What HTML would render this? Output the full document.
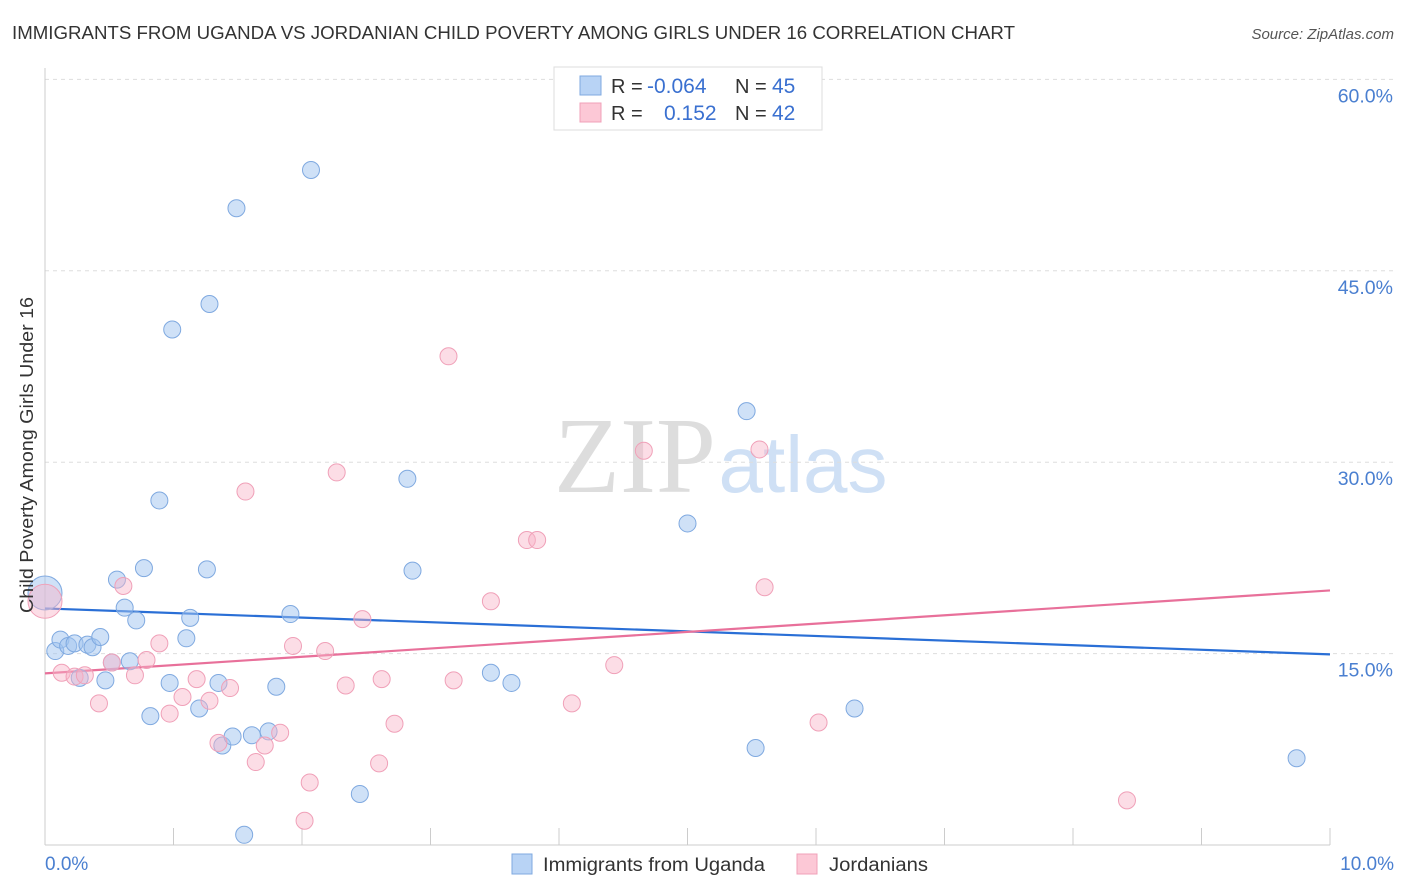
<!DOCTYPE html>
<html><head><meta charset="utf-8"><style>
body{margin:0;background:#fff;font-family:"Liberation Sans",sans-serif;}
svg{display:block}
</style></head><body>
<svg id="chart" width="1406" height="892">
<text x="12" y="39" font-size="18" fill="#333" textLength="1003" lengthAdjust="spacingAndGlyphs">IMMIGRANTS FROM UGANDA VS JORDANIAN CHILD POVERTY AMONG GIRLS UNDER 16 CORRELATION CHART</text>
<text x="1394" y="39" font-size="15" fill="#555" font-style="italic" text-anchor="end">Source: ZipAtlas.com</text>
<g>
<text x="635" y="492" font-size="108" font-family="Liberation Serif,serif" fill="#ddd" text-anchor="middle">ZIP</text>
<text x="803" y="492" font-size="80" fill="#cfe0f5" text-anchor="middle">atlas</text>
</g>
<g id="grid"></g>
<g id="axes"></g>
<g id="lines"></g>
<g id="pts"></g>
<text transform="translate(33,455) rotate(-90)" font-size="18" fill="#333" text-anchor="middle" textLength="316" lengthAdjust="spacingAndGlyphs">Child Poverty Among Girls Under 16</text>
<text x="45" y="870" font-size="19" fill="#4a7fd0">0.0%</text>
<text x="1394" y="870" font-size="19" fill="#4a7fd0" text-anchor="end">10.0%</text>
<g>
<rect x="554" y="67" width="268" height="63" fill="#fff" stroke="#ddd"/>
<rect x="580" y="76" width="21" height="19" fill="#b8d3f5" stroke="#7fa9e0"/>
<rect x="580" y="103" width="21" height="19" fill="#fcc8d6" stroke="#f0a0b8"/>
<text x="611" y="93" font-size="20" fill="#333">R = <tspan x="647" fill="#3a70d0" font-size="21">-0.064</tspan><tspan x="735">N = </tspan><tspan x="772" fill="#3a70d0" font-size="21">45</tspan></text>
<text x="611" y="120" font-size="20" fill="#333">R = <tspan x="664" fill="#3a70d0" font-size="21">0.152</tspan><tspan x="735">N = </tspan><tspan x="772" fill="#3a70d0" font-size="21">42</tspan></text>
</g>
<g>
<rect x="512" y="854" width="20" height="20" fill="#b8d3f5" stroke="#7fa9e0"/>
<text x="543" y="871" font-size="19" fill="#333" textLength="222" lengthAdjust="spacingAndGlyphs">Immigrants from Uganda</text>
<rect x="797" y="854" width="20" height="20" fill="#fcc8d6" stroke="#f0a0b8"/>
<text x="829" y="871" font-size="19" fill="#333" textLength="99" lengthAdjust="spacingAndGlyphs">Jordanians</text>
</g>
</svg>
<script>
const yTicks=[15,30,45,60];
const yTickLabels=["15.0%","30.0%","45.0%","60.0%"];
const xTicks=[1,2,3,4,5,6,7,8,9,10];
const ugX=[0,0.08,0.12,0.18,0.23,0.27,0.33,0.37,0.43,0.47,0.52,0.56,0.62,0.66,0.71,0.77,0.82,0.89,0.97,0.99,1.10,1.13,1.20,1.26,1.28,1.35,1.38,1.46,1.49,1.55,1.61,1.74,1.80,1.91,2.07,2.45,2.82,2.86,3.47,3.63,5.00,5.46,5.53,6.30,9.74];
const ugY=[19.75,15.2,16.1,15.6,15.8,13.1,15.7,15.5,16.3,12.9,14.3,20.8,18.6,14.4,17.6,21.7,10.1,27.0,12.7,40.4,16.2,17.8,10.7,21.6,42.4,12.7,7.8,8.5,49.9,0.8,8.6,8.9,12.4,18.1,52.9,4.0,28.7,21.5,13.5,12.7,25.2,34.0,7.6,10.7,6.8];
const joX=[0,0.13,0.23,0.31,0.42,0.52,0.61,0.70,0.79,0.89,0.97,1.07,1.18,1.28,1.35,1.44,1.56,1.64,1.71,1.83,1.93,2.02,2.06,2.18,2.27,2.34,2.47,2.6,2.62,2.72,3.14,3.18,3.47,3.75,3.83,4.1,4.43,4.66,5.56,5.6,6.02,8.42];
const joY=[19.1,13.5,13.2,13.3,11.1,14.3,20.3,13.3,14.5,15.8,10.3,11.6,13.0,11.3,8.0,12.3,27.7,6.5,7.8,8.8,15.6,1.9,4.9,15.2,29.2,12.5,17.7,6.4,13.0,9.5,38.3,12.9,19.1,23.9,23.9,11.1,14.1,30.9,31.0,20.2,9.6,3.5];
const ugTrend=[18.54,14.94];
const joTrend=[13.45,19.95];
const NS="http://www.w3.org/2000/svg";
const X=v=>45+v*128.5, Y=v=>845-v*12.76;
function mk(p,t,a){const e=document.createElementNS(NS,t);for(const k in a)e.setAttribute(k,a[k]);document.getElementById(p).appendChild(e);return e;}
yTicks.forEach((t,i)=>{
 const l=mk('grid','line',{x1:45,x2:1394,y1:Y(t),y2:Y(t),stroke:'#ddd','stroke-dasharray':'4,4'});
 
 
 const tx=mk('grid','text',{x:1393,y:Y(t)+23,'font-size':19.5,fill:'#4a7fd0','text-anchor':'end'});
 tx.textContent=yTickLabels[i];
 
 
});
const ya=mk('axes','line',{x1:45,x2:45,y1:68,y2:845,stroke:'#ccc'});


const xa=mk('axes','line',{x1:45,x2:1330,y1:845,y2:845,stroke:'#ccc'});


xTicks.forEach(t=>{
 const l=mk('axes','line',{x1:X(t),x2:X(t),y1:828,y2:845,stroke:'#ccc'});
 
 
});
function series(xs,ys,fill,stroke,name){
 xs.forEach((x,i)=>{
  const c=mk('pts','circle',{cx:X(x),cy:Y(ys[i]),r:i===0?17:8.5,fill:fill,stroke:stroke,'stroke-width':1});
  
  
 });
}
series(ugX,ugY,'rgba(160,196,240,0.5)','#7fa9e0','uganda-point');
series(joX,joY,'rgba(248,180,200,0.45)','#f0a0b8','jordanian-point');
const l1=mk('lines','line',{x1:X(0),x2:X(10),y1:Y(ugTrend[0]),y2:Y(ugTrend[1]),stroke:'#2a6fd6','stroke-width':2.2});


const l2=mk('lines','line',{x1:X(0),x2:X(10),y1:Y(joTrend[0]),y2:Y(joTrend[1]),stroke:'#e8709a','stroke-width':2.2});


</script>
</body></html>
